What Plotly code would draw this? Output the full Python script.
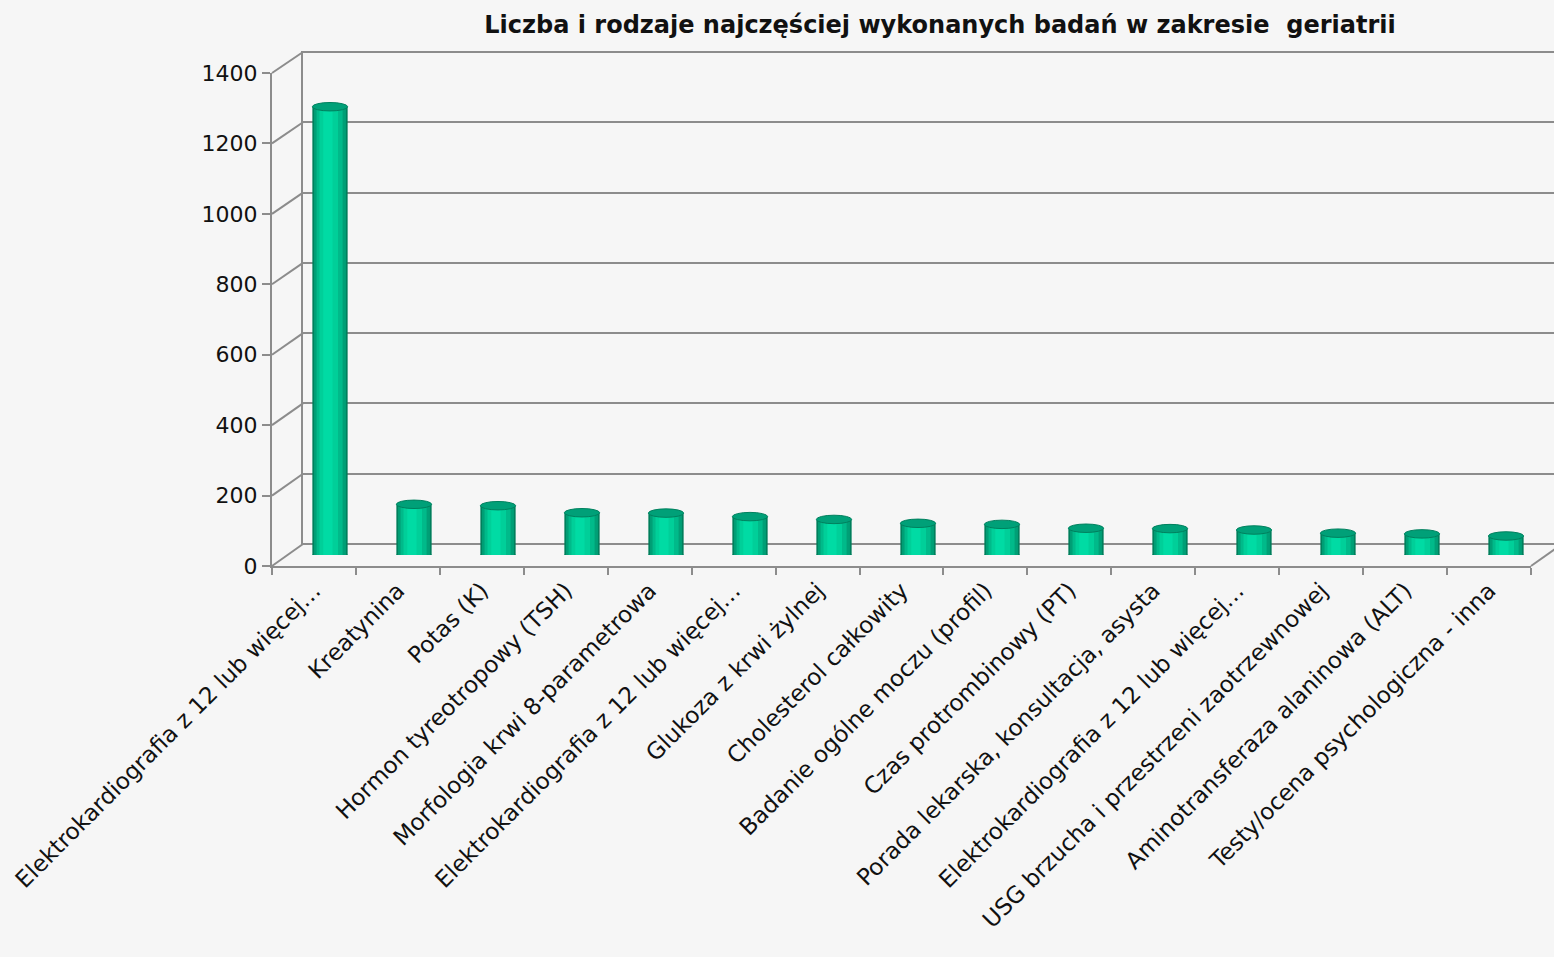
import plotly.graph_objects as go

categories = [
    "Elektrokardiografia z 12 lub więcej…",
    "Kreatynina",
    "Potas (K)",
    "Hormon tyreotropowy (TSH)",
    "Morfologia krwi 8-parametrowa",
    "Elektrokardiografia z 12 lub więcej…",
    "Glukoza z krwi żylnej",
    "Cholesterol całkowity",
    "Badanie ogólne moczu (profil)",
    "Czas protrombinowy (PT)",
    "Porada lekarska, konsultacja, asysta",
    "Elektrokardiografia z 12 lub więcej…",
    "USG brzucha i przestrzeni zaotrzewnowej",
    "Aminotransferaza alaninowa (ALT)",
    "Testy/ocena psychologiczna - inna",
]
values = [1273, 144, 140, 120, 119, 109, 101, 90, 87, 76, 75, 71, 62, 60, 54]
y_ticks = [0, 200, 400, 600, 800, 1000, 1200, 1400]
title_text = "Liczba i rodzaje najczęściej wykonanych badań w zakresie  geriatrii"

W, H = 1554, 957
BG = "#f6f6f6"
GRID = "#8c8c8c"

def px_x(p):
    return p / W

def px_y(p):
    return 1 - p / H

# front axis (labels), back wall (grid), bar plane (mid depth)
front_x = [px_x(272), px_x(1531)]
front_y = [px_y(566), px_y(73)]
back_x = [px_x(303), 1.0]
back_y = [px_y(545), px_y(51)]   # padded by 1px each side for range [-3, 1403]
bar_x = [px_x(288), px_x(1548)]
bar_y = [px_y(555), px_y(62)]
YMAX = 1400

idx = list(range(len(categories)))
labels_unique = [c + "\u200b" * i for i, c in enumerate(categories)]

fig = go.Figure()

# front axes carrier (invisible)
fig.add_trace(go.Scatter(x=labels_unique, y=[None] * len(idx), xaxis="x", yaxis="y",
                         mode="markers", showlegend=False, hoverinfo="skip"))
# back wall carrier
fig.add_trace(go.Scatter(x=[0], y=[None], xaxis="x2", yaxis="y2", mode="markers",
                         showlegend=False, hoverinfo="skip"))

# cylinder shading layers
layers = [
    (0.42, -0.21, "#007f5c"),
    (0.38, -0.19, "#009f76"),
    (0.31, -0.16, "#00ba8a"),
    (0.22, -0.125, "#00cf99"),
    (0.11, -0.08, "#00dba4"),
]
for w, off, col in layers:
    fig.add_trace(go.Bar(x=idx, y=values, xaxis="x3", yaxis="y3", width=w, offset=off,
                         marker=dict(color=col, line=dict(width=0)),
                         showlegend=False, hoverinfo="skip"))

shapes = []
ry = 12
for i, v in zip(idx, values):
    # bottom rounding
    shapes.append(dict(type="circle", xref="x3", yref="y3", x0=i - 0.21, x1=i + 0.21,
                       y0=-ry, y1=ry, fillcolor="#00a87d", line=dict(width=0), layer="between"))
    # top cap
    shapes.append(dict(type="circle", xref="x3", yref="y3", x0=i - 0.21, x1=i + 0.21,
                       y0=v - ry, y1=v + ry, fillcolor="#00a078",
                       line=dict(color="#00805e", width=1), layer="above"))

# left wall diagonals
def fy(v):
    return front_y[0] + (front_y[1] - front_y[0]) * v / YMAX

def by(v):
    return px_y(544) + (px_y(52) - px_y(544)) * v / YMAX

for v in y_ticks:
    shapes.append(dict(type="line", xref="paper", yref="paper", x0=front_x[0], y0=fy(v),
                       x1=back_x[0], y1=by(v), line=dict(color=GRID, width=2), layer="below"))
# right floor edge
shapes.append(dict(type="line", xref="paper", yref="paper", x0=front_x[1], y0=fy(0),
                   x1=front_x[1] + (back_x[0] - front_x[0]), y1=by(0),
                   line=dict(color=GRID, width=2), layer="below"))

fig.update_layout(
    width=W, height=H,
    margin=dict(l=0, r=0, t=0, b=0),
    paper_bgcolor=BG, plot_bgcolor="rgba(0,0,0,0)",
    barmode="overlay",
    showlegend=False,
    hovermode=False,
    title=dict(text="<b>" + title_text + "</b>", x=px_x(940), xanchor="center",
               y=px_y(25), yanchor="middle",
               font=dict(family="DejaVu Sans", size=24, color="#111111")),
    xaxis=dict(domain=front_x, anchor="y", type="category", tickson="boundaries",
               ticks="outside", ticklen=7, tickcolor=GRID, tickwidth=2,
               showline=True, linecolor=GRID, linewidth=2, showgrid=False,
               tickangle=-45, tickvals=labels_unique, ticktext=categories,
               tickfont=dict(family="DejaVu Sans", size=23, color="#111111"),
               range=[-0.5, len(idx) - 0.5], automargin=False, fixedrange=True),
    yaxis=dict(domain=front_y, anchor="x", range=[0, YMAX], tickvals=y_ticks,
               ticks="outside", ticklen=8, tickcolor=GRID, tickwidth=2,
               showline=True, linecolor=GRID, linewidth=2, showgrid=False, zeroline=False,
               tickfont=dict(family="DejaVu Sans", size=22, color="#111111"),
               automargin=False, fixedrange=True),
    xaxis2=dict(domain=back_x, anchor="y2", range=[0, 1], showgrid=False, zeroline=False,
                showticklabels=False, showline=False, ticks=""),
    yaxis2=dict(domain=back_y, anchor="x2", range=[-3, YMAX + 3], tickvals=y_ticks,
                showgrid=True, gridcolor=GRID, gridwidth=2, zeroline=False,
                showticklabels=False, showline=True, linecolor=GRID, linewidth=2, ticks=""),
    xaxis3=dict(domain=bar_x, anchor="y3", range=[-0.5, len(idx) - 0.5], visible=False),
    yaxis3=dict(domain=bar_y, anchor="x3", range=[0, YMAX], visible=False),
    shapes=shapes,
)

fig.write_html("out.html", config={"displayModeBar": False, "staticPlot": True},
               post_script="document.body.style.margin='0';document.body.style.background='#f6f6f6';")
